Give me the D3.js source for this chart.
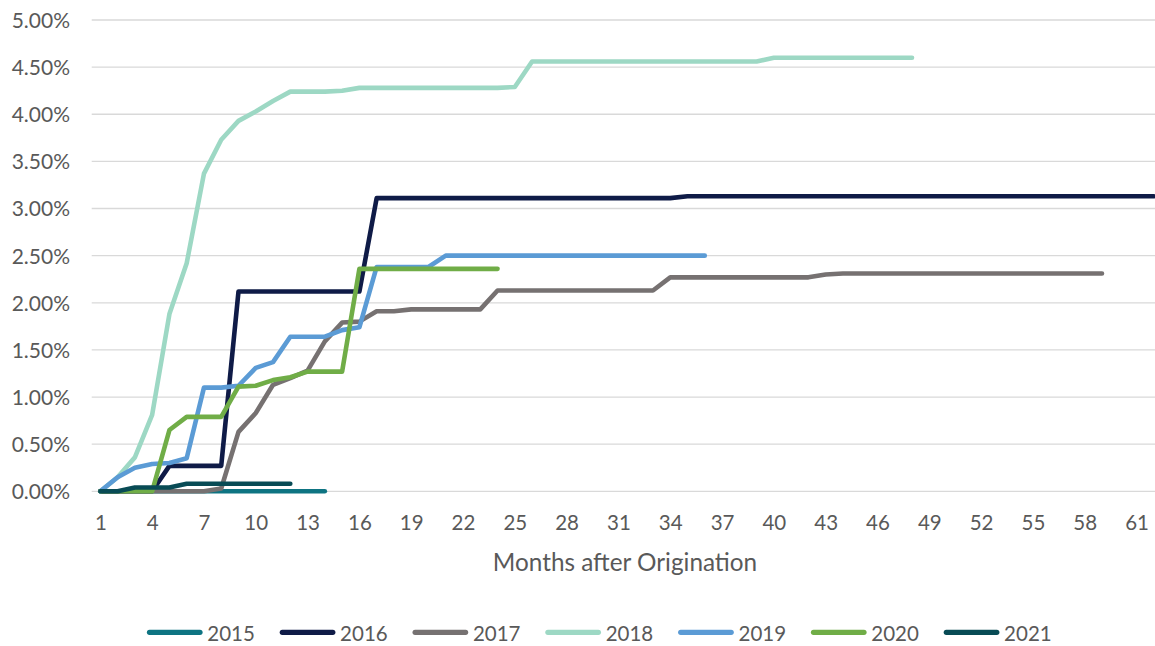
<!DOCTYPE html>
<html>
<head>
<meta charset="utf-8">
<script src="https://cdn.jsdelivr.net/npm/d3@7"></script>
<style>
  html, body { margin: 0; padding: 0; background: #fff; }
  svg { display: block; font-family: Lato, "Open Sans", sans-serif; }
</style>
</head>
<body>
<svg id="chart" width="1155" height="646"></svg>
<script>
// ---- Data (cumulative loss rate in %, by months after origination) ----
const months = d3.range(1, 63);           // category axis 1..62
const xTickLabels = [1,4,7,10,13,16,19,22,25,28,31,34,37,40,43,46,49,52,55,58,61];
const yTickValues = [0,0.5,1,1.5,2,2.5,3,3.5,4,4.5,5];
const seriesNames = ["2015","2016","2017","2018","2019","2020","2021"];

const s2015 = [0,0,0,0,0,0,0,0,0,0,0,0,0,0];
const s2016 = [0,0,0,0,0.27,0.27,0.27,0.27,2.12,2.12,2.12,2.12,2.12,2.12,2.12,2.12,
  3.11,3.11,3.11,3.11,3.11,3.11,3.11,3.11,3.11,3.11,3.11,3.11,3.11,3.11,3.11,3.11,3.11,3.11,
  3.13,3.13,3.13,3.13,3.13,3.13,3.13,3.13,3.13,3.13,3.13,3.13,3.13,3.13,3.13,3.13,3.13,3.13,
  3.13,3.13,3.13,3.13,3.13,3.13,3.13,3.13,3.13,3.13];
const s2017 = [0,0,0,0,0,0,0,0.03,0.63,0.83,1.13,1.20,1.28,1.59,1.79,1.80,1.91,1.91,1.93,1.93,
  1.93,1.93,1.93,2.13,2.13,2.13,2.13,2.13,2.13,2.13,2.13,2.13,2.13,2.27,2.27,2.27,2.27,2.27,
  2.27,2.27,2.27,2.27,2.30,2.31,2.31,2.31,2.31,2.31,2.31,2.31,2.31,2.31,2.31,2.31,2.31,2.31,
  2.31,2.31,2.31];
const s2018 = [0,0.15,0.36,0.81,1.88,2.42,3.37,3.73,3.93,4.03,4.14,4.24,4.24,4.24,4.25,4.28,
  4.28,4.28,4.28,4.28,4.28,4.28,4.28,4.28,4.29,4.56,4.56,4.56,4.56,4.56,4.56,4.56,4.56,4.56,
  4.56,4.56,4.56,4.56,4.56,4.60,4.60,4.60,4.60,4.60,4.60,4.60,4.60,4.60];
const s2019 = [0,0.15,0.25,0.29,0.30,0.35,1.10,1.10,1.12,1.31,1.37,1.64,1.64,1.64,1.71,1.74,
  2.38,2.38,2.38,2.38,2.50,2.50,2.50,2.50,2.50,2.50,2.50,2.50,2.50,2.50,2.50,2.50,2.50,2.50,
  2.50,2.50];
const s2020 = [0,0,0,0,0.65,0.79,0.79,0.79,1.11,1.12,1.18,1.21,1.27,1.27,1.27,2.36,
  2.36,2.36,2.36,2.36,2.36,2.36,2.36,2.36];
const s2021 = [0,0,0.04,0.04,0.04,0.08,0.08,0.08,0.08,0.08,0.08,0.08];

const seriesColors = ["#0e7482","#0f1b47","#767171","#9dd8c4","#5b9bd5","#70ad47","#084b55"];
const seriesValues = [s2015,s2016,s2017,s2018,s2019,s2020,s2021];

// ---- Layout ----
const svg = d3.select("#chart");
const plotLeft = 91.7, step = 17.27;
const plotRight = plotLeft + step * months.length;
const y0 = 491.3, yTop = 20;

const x = d3.scaleLinear().domain([0.5, months.length + 0.5]).range([plotLeft, plotRight]);
const y = d3.scaleLinear().domain([0, 5]).range([y0, yTop]);

// gridlines
svg.append("g").selectAll("line").data(yTickValues).join("line")
  .attr("x1", plotLeft).attr("x2", plotRight)
  .attr("y1", d => y(d)).attr("y2", d => y(d))
  .attr("stroke", "#d9d9d9").attr("stroke-width", 1.3);

// y axis labels
const yAxis = d3.axisLeft(y).tickValues(yTickValues).tickSize(0).tickPadding(21.7)
  .tickFormat(d => d.toFixed(2) + "%");
const gy = svg.append("g").attr("transform", `translate(${plotLeft},0)`).call(yAxis);
gy.select(".domain").remove();
gy.selectAll("text").attr("fill", "#595959").style("font-size", "21px")
  .style("font-family", "Lato, 'Open Sans', sans-serif").attr("dy", "0.35em");

// x axis labels
const xAxis = d3.axisBottom(x).tickValues(xTickLabels).tickSize(0).tickPadding(24)
  .tickFormat(d3.format("d"));
const gx = svg.append("g").attr("transform", `translate(0,${y0})`).call(xAxis);
gx.select(".domain").remove();
gx.selectAll("text").attr("fill", "#595959").style("font-size", "20.5px")
  .style("font-family", "Lato, 'Open Sans', sans-serif");

// axis title
svg.append("text").attr("x", 625).attr("y", 570.5).attr("text-anchor", "middle")
  .attr("fill", "#595959").style("font-size", "24.3px").text("Months after Origination");

// lines
const line = d3.line().x((d, i) => x(months[i])).y(d => y(d));
svg.append("g").selectAll("path").data(seriesValues).join("path")
  .attr("d", d => line(d))
  .attr("fill", "none")
  .attr("stroke", (d, i) => seriesColors[i])
  .attr("stroke-width", 4.6)
  .attr("stroke-linecap", "round")
  .attr("stroke-linejoin", "round");

// legend
const legStart = 149.5, legStep = 132.8, legY = 632.3;
const leg = svg.append("g").selectAll("g").data(seriesNames).join("g")
  .attr("transform", (d, i) => `translate(${legStart + i * legStep},${legY})`);
leg.append("line").attr("x1", 0).attr("x2", 50.5).attr("y1", 0).attr("y2", 0)
  .attr("stroke", (d, i) => seriesColors[i]).attr("stroke-width", 5.2)
  .attr("stroke-linecap", "round");
leg.append("text").attr("x", 57.8).attr("y", 8.6).attr("fill", "#595959")
  .style("font-size", "20.5px").text(d => d);
</script>
</body>
</html>
